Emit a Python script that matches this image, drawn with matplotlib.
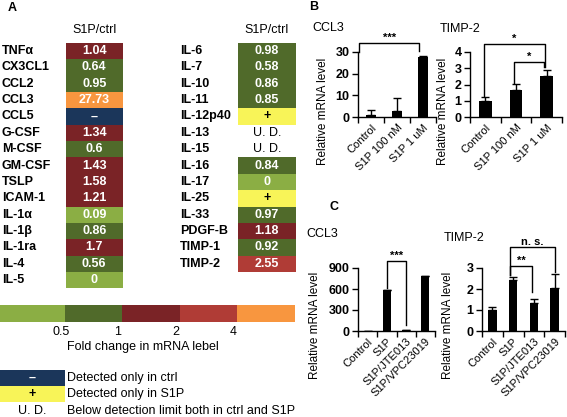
import numpy as np
import matplotlib as mpl
mpl.use('Agg')
import matplotlib.pyplot as plt

plt.rcParams['font.family'] = ['Liberation Sans', 'DejaVu Sans']
plt.rcParams['font.size'] = 9

W, H = 567, 417

# ---- heatmap data (panel A) ----
left_genes = ["TNFα", "CX3CL1", "CCL2", "CCL3", "CCL5", "G-CSF", "M-CSF", "GM-CSF",
              "TSLP", "ICAM-1", "IL-1α", "IL-1β", "IL-1ra", "IL-4", "IL-5"]
left_vals = ["1.04", "0.64", "0.95", "27.73", "–", "1.34", "0.6", "1.43",
             "1.58", "1.21", "0.09", "0.86", "1.7", "0.56", "0"]
right_genes = ["IL-6", "IL-7", "IL-10", "IL-11", "IL-12p40", "IL-13", "IL-15", "IL-16",
               "IL-17", "IL-25", "IL-33", "PDGF-B", "TIMP-1", "TIMP-2"]
right_vals = ["0.98", "0.58", "0.86", "0.85", "+", "U. D.", "U. D.", "0.84",
              "0", "+", "0.97", "1.18", "0.92", "2.55"]

scale_labels = ["0.5", "1", "2", "4"]
legend_marks = ["–", "+", "U. D."]
legend_texts = ["Detected only in ctrl", "Detected only in S1P",
                "Below detection limit both in ctrl and S1P"]

# ---- bar data (panels B, C) ----
b_cats = ["Control", "S1P 100 nM", "S1P 1 uM"]
b_ccl3 = [0.8, 2.8, 27.7]
b_ccl3_err = [2.6, 6.0, 0.3]
b_timp2 = [1.0, 1.67, 2.54]
b_timp2_err = [0.22, 0.37, 0.35]

c_cats = ["Control", "S1P", "S1P/JTE013", "S1P/VPC23019"]
c_ccl3 = [1.0, 580, 12, 790]
c_ccl3_err = [0, 8, 2, 0]
c_timp2 = [1.0, 2.42, 1.32, 2.05]
c_timp2_err = [0.13, 0.17, 0.2, 0.67]

GREEN_L = '#8BAE44'
GREEN_D = '#506A2A'
RED_D = '#7A2326'
RED = '#B03C36'
ORANGE = '#F8963F'
NAVY = '#1B365A'
YELLOW = '#F8F458'
scale_colors = [GREEN_L, GREEN_D, RED_D, RED, ORANGE]


def cell_color(v):
    if v == "–":
        return NAVY
    if v == "+":
        return YELLOW
    if v == "U. D.":
        return 'none'
    f = float(v)
    if f < 0.5:
        return GREEN_L
    if f < 1:
        return GREEN_D
    if f < 2:
        return RED_D
    if f < 4:
        return RED
    return ORANGE


fig = plt.figure(figsize=(W / 100, H / 100), dpi=100)
ov = fig.add_axes([0, 0, 1, 1])
ov.set_xlim(0, W)
ov.set_ylim(H, 0)
ov.axis('off')

row_h = 16.4
top = 42.5
for genes, vals, lab_x, cx0, cx1 in [(left_genes, left_vals, 2, 65.7, 122.7),
                                      (right_genes, right_vals, 180, 237.7, 295.7)]:
    ys = top + row_h * (np.arange(len(genes)) + 0.5)
    ov.barh(ys, cx1 - cx0, left=cx0, height=row_h,
            color=[cell_color(v) for v in vals], edgecolor='none')
    for y, g, v in zip(ys, genes, vals):
        ov.text(lab_x, y, g, ha='left', va='center', fontsize=9, fontweight='bold')
        tc = 'black' if v in ("+", "U. D.") else 'white'
        fw = 'normal' if v == "U. D." else 'bold'
        ov.text((cx0 + cx1) / 2, y, v, ha='center', va='center', fontsize=9,
                color=tc, fontweight=fw)
    ov.text((cx0 + cx1) / 2, 30, "S1P/ctrl", ha='center', va='center', fontsize=9)

ov.text(8, 8, "A", fontsize=9, fontweight='bold', ha='left', va='center')

# colour scale
edges = [0, 65, 121.7, 180, 237.3, 295]
ov.barh(313.5, np.diff(edges), left=edges[:-1], height=16.5,
        color=scale_colors, edgecolor='none')
for x, s in zip(edges[1:5], scale_labels):
    ov.text(x - 4, 332, s, ha='center', va='center', fontsize=9)
ov.text(67, 347, "Fold change in mRNA lebel", ha='left', va='center', fontsize=9)

# legend
leg_y = [377.7, 394.1, 410.5]
ov.barh(leg_y[:2], 65, left=0, height=16.4, color=[NAVY, YELLOW], edgecolor='none')
for y, m, t, c in zip(leg_y, legend_marks, legend_texts, ['white', 'black', 'black']):
    ov.text(32, y, m, ha='center', va='center', fontsize=9, color=c,
            fontweight='normal' if m == "U. D." else 'bold')
    ov.text(67, y, t, ha='left', va='center', fontsize=9)


def draw_bars(l, r, t, b, cats, vals, errs, ymax, yticks, brackets):
    ax = fig.add_axes([l / W, 1 - b / H, (r - l) / W, (b - t) / H])
    x = np.arange(len(cats))
    ax.bar(x, vals, width=0.42, color='black', zorder=2)
    ax.errorbar(x, vals, yerr=[np.zeros(len(errs)), errs], fmt='none',
                ecolor='black', elinewidth=1, capsize=3, capthick=1, zorder=3)
    ax.set_xlim(-0.5, len(cats) - 0.5)
    ax.set_ylim(0, ymax)
    ax.set_yticks(yticks)
    ax.set_yticklabels([str(v) for v in yticks], fontsize=9, fontweight='bold')
    ax.set_xticks(np.arange(len(cats) + 1) - 0.5)
    ax.set_xticklabels([])
    ax.set_xticks(x, minor=True)
    ax.set_xticklabels(cats, minor=True, rotation=45, ha='right',
                       rotation_mode='anchor', fontsize=8)
    ax.tick_params(axis='x', which='minor', length=0, pad=4)
    ax.tick_params(axis='x', which='major', length=4, width=1, direction='out')
    ax.tick_params(axis='y', length=4, width=1, direction='out', pad=2)
    for s in ['top', 'right']:
        ax.spines[s].set_visible(False)
    for s in ['left', 'bottom']:
        ax.spines[s].set_linewidth(1)
    ax.patch.set_alpha(0)
    for x1, x2, y, yl, yr, txt in brackets:
        ax.plot([x1, x1, x2, x2], [yl, y, y, yr], color='black', lw=1, clip_on=False)
        ax.text((x1 + x2) / 2, y, txt, ha='center', va='bottom', fontsize=8,
                fontweight='bold', clip_on=False)
    return ax


# panel B
ov.text(309, 7, "B", fontsize=9, fontweight='bold', ha='left', va='center')
ov.text(312, 28, "CCL3", fontsize=9, ha='left', va='center')
ov.text(323, 111, "Relative mRNA level", fontsize=8.5, rotation=90, ha='center', va='center')
draw_bars(358, 436, 52, 117, b_cats, b_ccl3, b_ccl3_err, 30, [0, 10, 20, 30],
          [(-0.45, 1.85, 34, 30, 30.5, "***")])

ov.text(440, 29, "TIMP-2", fontsize=9, ha='left', va='center')
ov.text(443, 111, "Relative mRNA level", fontsize=8.5, rotation=90, ha='center', va='center')
draw_bars(470, 562, 52, 117, b_cats, b_timp2, b_timp2_err, 4, [0, 1, 2, 3, 4],
          [(-0.05, 1.95, 4.5, 1.3, 3.05, "*"), (0.95, 1.9, 3.38, 2.1, 3.05, "*")])

# panel C
ov.text(329, 207, "C", fontsize=9, fontweight='bold', ha='left', va='center')
ov.text(306, 234, "CCL3", fontsize=9, ha='left', va='center')
ov.text(315, 325, "Relative mRNA level", fontsize=8.5, rotation=90, ha='center', va='center')
draw_bars(358, 435, 268, 331, c_cats, c_ccl3, c_ccl3_err, 900, [0, 300, 600, 900],
          [(1.0, 2.0, 1000, 620, 80, "***")])

ov.text(444, 238, "TIMP-2", fontsize=9, ha='left', va='center')
ov.text(448, 325, "Relative mRNA level", fontsize=8.5, rotation=90, ha='center', va='center')
draw_bars(482, 565, 268, 331, c_cats, c_timp2, c_timp2_err, 3, [0, 1, 2, 3],
          [(0.85, 1.9, 3.1, 2.65, 1.85, "**"), (0.85, 3.0, 4.0, 2.65, 2.82, "n. s.")])

fig.savefig("out.png", dpi=100)
